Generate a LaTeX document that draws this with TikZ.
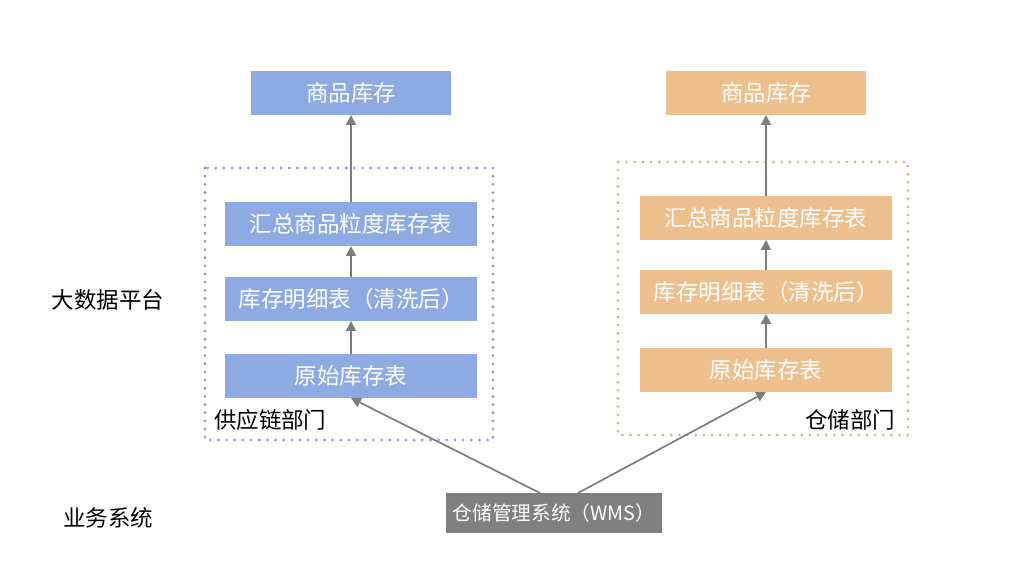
\documentclass[tikz,border=0pt]{standalone}
\usepackage{fontspec}
\setmainfont{Noto Sans CJK SC}
\usetikzlibrary{arrows.meta}
\definecolor{blueBox}{RGB}{142,170,226}
\definecolor{orangeBox}{RGB}{238,192,142}
\definecolor{wmsBox}{RGB}{128,128,128}
\definecolor{arrowGray}{RGB}{125,125,125}
\definecolor{blueDot}{RGB}{140,155,208}
\definecolor{orangeDot}{RGB}{214,184,140}
\begin{document}
\begin{tikzpicture}[x=0.025cm,y=-0.025cm,inner sep=0pt,outer sep=0pt,
tbl/.style={rectangle,minimum width=6.3cm,minimum height=1.1cm,text=white,font=\fontsize{16}{19}\selectfont},
topbox/.style={tbl,minimum width=5cm},
label/.style={font=\fontsize{16}{19}\selectfont,text=black},
dotbox/.style={line width=2.2pt,dash pattern=on 0pt off 5.8pt,line cap=round},
flow/.style={draw=arrowGray,line width=1.2pt,-{Triangle[width=7pt,length=7pt]}}]
\useasboundingbox (0,0) rectangle (1024,586);
% dotted frames
\draw[dotbox,blueDot] (205,168) rectangle (493,440);
\draw[dotbox,orangeDot] (618,162) rectangle (908,435);
% supply chain side
\draw (351,93) node[topbox,fill=blueBox] (bTop) {商品库存};
\draw (351,224) node[tbl,fill=blueBox] (bSum) {汇总商品粒度库存表};
\draw (351,299) node[tbl,fill=blueBox] (bDet) {库存明细表（清洗后）};
\draw (351,376) node[tbl,fill=blueBox] (bRaw) {原始库存表};
\draw (214,420) node[label,anchor=west] (bName) {供应链部门};
% warehouse side
\draw (766,93) node[topbox,fill=orangeBox] (oTop) {商品库存};
\draw (766,218) node[tbl,fill=orangeBox] (oSum) {汇总商品粒度库存表};
\draw (766,292) node[tbl,fill=orangeBox] (oDet) {库存明细表（清洗后）};
\draw (766,370) node[tbl,fill=orangeBox] (oRaw) {原始库存表};
\draw (895,420) node[label,anchor=east] (oName) {仓储部门};
% business system
\draw (554,513) node[tbl,fill=wmsBox,minimum width=5.4cm,minimum height=1cm,font=\fontsize{14}{17}\selectfont] (wms) {仓储管理系统（WMS）};
\draw (108,300) node[label] (bigdata) {大数据平台};
\draw (108,518) node[label] (bizsys) {业务系统};
% arrows
\draw[flow] (bRaw.north) -- (bDet.south);
\draw[flow] (bDet.north) -- (bSum.south);
\draw[flow] (bSum.north) -- (bTop.south);
\draw[flow] (oRaw.north) -- (oDet.south);
\draw[flow] (oDet.north) -- (oSum.south);
\draw[flow] (oSum.north) -- (oTop.south);
\draw[flow] ([xshift=-0.35cm]wms.north) -- (bRaw.south);
\draw[flow] ([xshift=0.6cm]wms.north) -- (oRaw.south);
\end{tikzpicture}
\end{document}
